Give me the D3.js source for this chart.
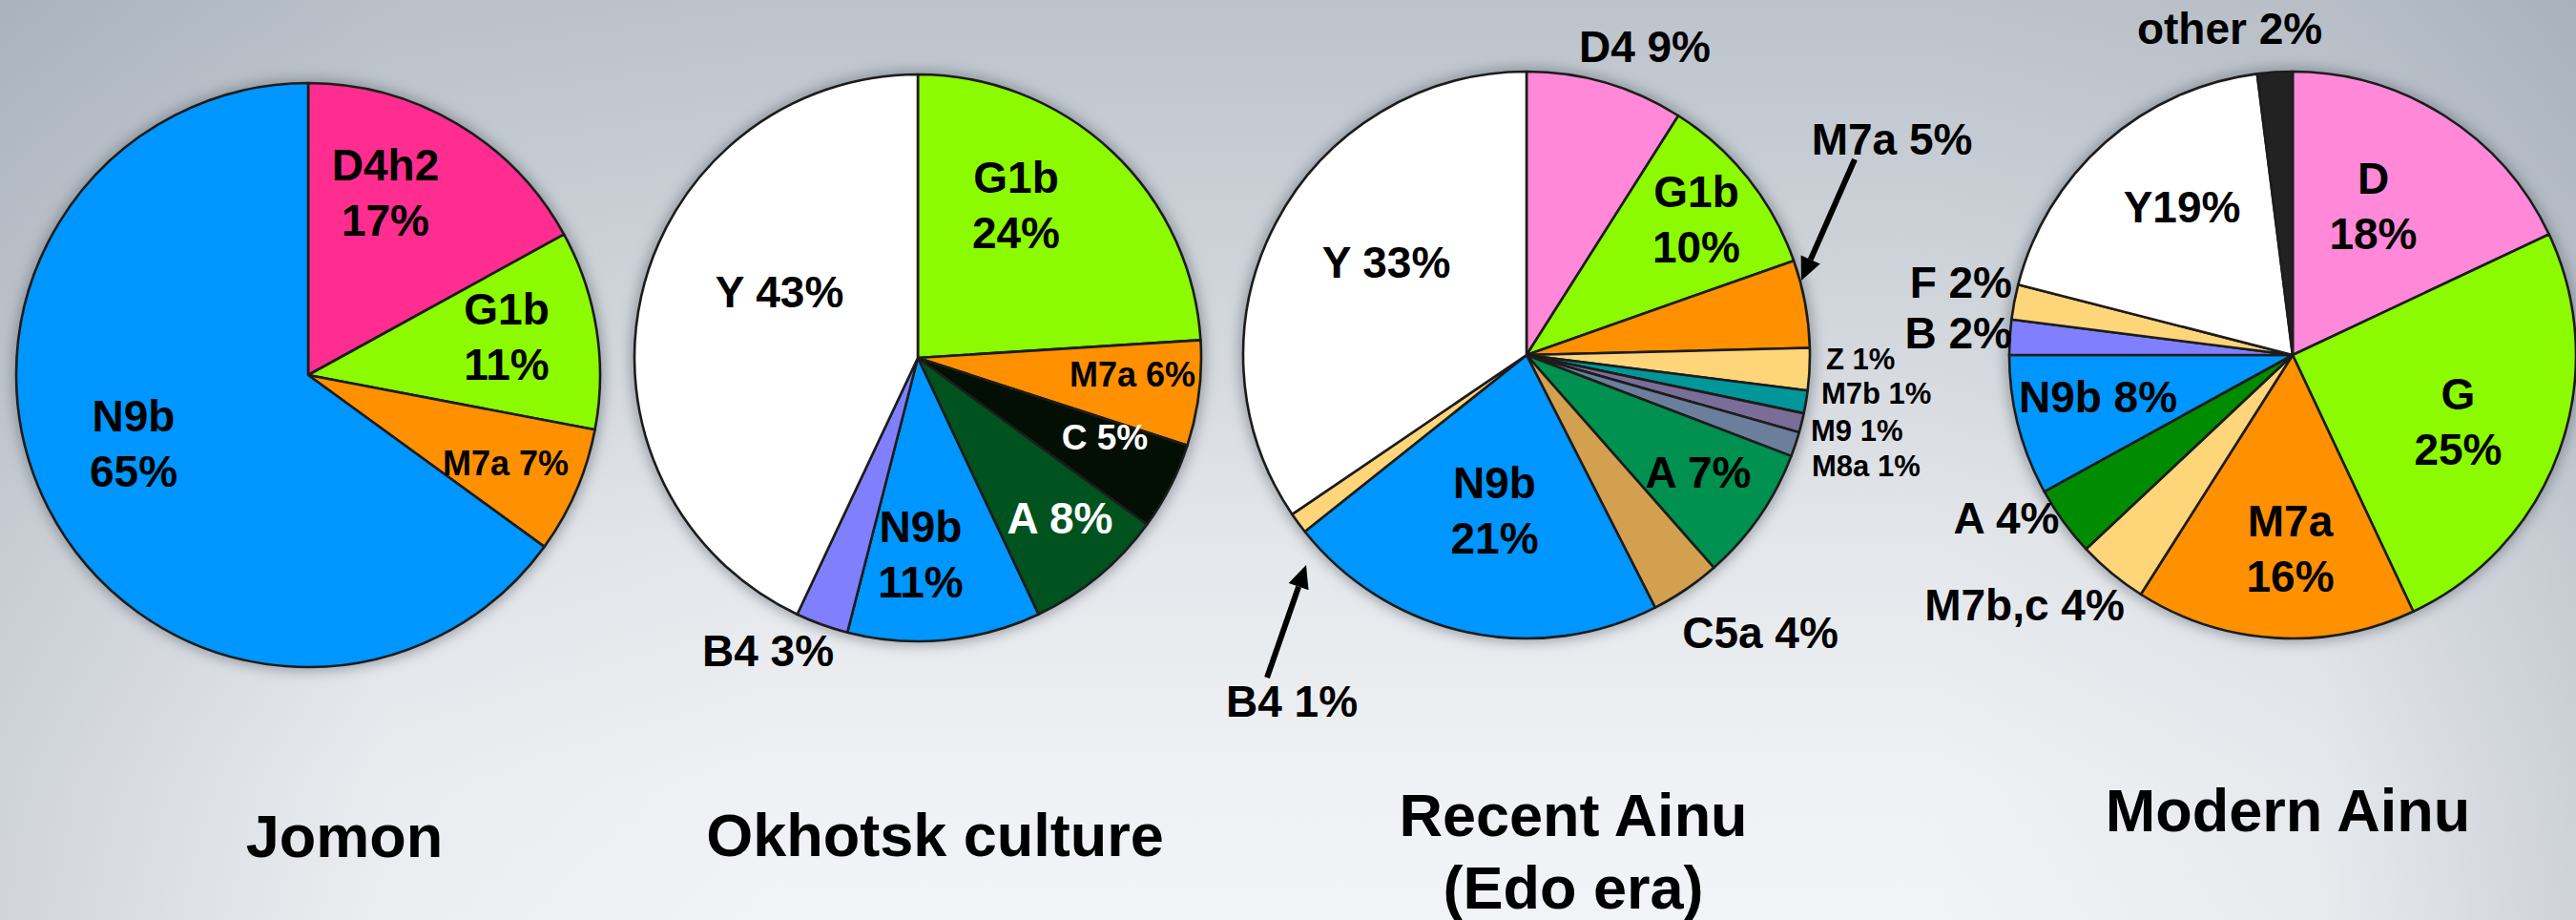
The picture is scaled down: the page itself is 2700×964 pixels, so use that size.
<!DOCTYPE html>
<html><head><meta charset="utf-8">
<script src="https://cdn.jsdelivr.net/npm/d3@7"></script>
<style>html,body{margin:0;padding:0;overflow:hidden;background:#e6e9ec;} svg{display:block;}</style>
</head><body>
<script>
// ---------------- DATA ----------------
const titles = [["Jomon"], ["Okhotsk culture"], ["Recent Ainu", "(Edo era)"], ["Modern Ainu"]];

const jomonGroups = ["D4h2", "G1b", "M7a", "N9b"];
const jomonValues = [17, 11, 7, 65];
const jomonLabels = [["D4h2", "17%"], ["G1b", "11%"], ["M7a 7%"], ["N9b", "65%"]];

const okhotskGroups = ["G1b", "M7a", "C", "A", "N9b", "B4", "Y"];
const okhotskValues = [24, 6, 5, 8, 11, 3, 43];
const okhotskLabels = [["G1b", "24%"], ["M7a 6%"], ["C 5%"], ["A 8%"], ["N9b", "11%"], ["B4 3%"], ["Y 43%"]];

const recentGroups = ["D4", "G1b", "M7a", "Z", "M7b", "M9", "M8a", "A", "C5a", "N9b", "B4", "Y"];
// slice sizes as drawn in the picture (labels show the rounded figures)
const recentValues = [9, 10.6, 5, 2.4, 1.3, 1.1, 1.4, 7.7, 4, 21.8, 1.2, 34.5];
const recentLabels = [["D4 9%"], ["G1b", "10%"], ["M7a 5%"], ["Z 1%"], ["M7b 1%"], ["M9 1%"], ["M8a 1%"], ["A 7%"], ["C5a 4%"], ["N9b", "21%"], ["B4 1%"], ["Y 33%"]];

const modernGroups = ["D", "G", "M7a", "M7b,c", "A", "N9b", "B", "F", "Y", "other"];
const modernValues = [18, 25, 16, 4, 4, 8, 2, 2, 19, 2];
const modernLabels = [["D", "18%"], ["G", "25%"], ["M7a", "16%"], ["M7b,c 4%"], ["A 4%"], ["N9b 8%"], ["B 2%"], ["F 2%"], ["Y19%"], ["other 2%"]];

// ---------------- STYLE ----------------
const jomonColors = ["#ff2d8f", "#8cfa00", "#ff9000", "#0096ff"];
const okhotskColors = ["#8cfa00", "#ff9000", "#020f02", "#00521f", "#0096ff", "#8080ff", "#ffffff"];
const recentColors = ["#ff88d8", "#8cfa00", "#ff9000", "#ffd57a", "#00969a", "#7a6e98", "#6b7f9c", "#00904f", "#d3a04f", "#0096ff", "#ffd57a", "#ffffff"];
const modernColors = ["#ff88d8", "#8cfa00", "#ff9000", "#ffd57a", "#008c00", "#0096ff", "#8080ff", "#ffd57a", "#ffffff", "#222222"];

// ---------------- LAYOUT ----------------
// label layout: [dx, dy(first baseline), font size, anchor, colour] relative to pie centre
const jomonLayout = [[81,-204,46,"middle","#000"],[208,-53,46,"middle","#000"],[207,105,36,"middle","#000"],[-183,59,46,"middle","#000"]];
const okhotskLayout = [[103,-173,46,"middle","#000"],[225,30,36,"middle","#000"],[196,96,37,"middle","#fff"],[149,184,46,"middle","#fff"],[3,193,46,"middle","#000"],[-157,323,46,"middle","#000"],[-145,-53,46,"middle","#000"]];
const recentLayout = [[124,-307,46,"middle","#000"],[178,-155,46,"middle","#000"],[383,-210,46,"middle","#000"],[314,15,31,"start","#000"],[309,51,31,"start","#000"],[298,90,31,"start","#000"],[299,126.5,31,"start","#000"],[180,139,46,"middle","#000"],[245,307,46,"middle","#000"],[-33.5,150,46,"middle","#000"],[-246,379,46,"middle","#000"],[-147,-81,46,"middle","#000"]];
const modernLayout = [[84.5,-169,46,"middle","#000"],[173.5,57,46,"middle","#000"],[-2.5,190,46,"middle","#000"],[-281,278,46,"middle","#000"],[-300,187,46,"middle","#000"],[-204,59.6,46,"middle","#000"],[-294,-7,46,"end","#000"],[-294,-60,46,"end","#000"],[-116,-139,46,"middle","#000"],[-66,-326,46,"middle","#000"]];

const pies = [
  {cx: 323, cy: 393, r: 306, groups: jomonGroups, values: jomonValues, labels: jomonLabels, colors: jomonColors, layout: jomonLayout, arrows: [], title: titles[0], tx: 361, ty: 898},
  {cx: 962, cy: 375, r: 297, groups: okhotskGroups, values: okhotskValues, labels: okhotskLabels, colors: okhotskColors, layout: okhotskLayout, arrows: [], title: titles[1], tx: 980, ty: 897},
  {cx: 1600, cy: 372, r: 297, groups: recentGroups, values: recentValues, labels: recentLabels, colors: recentColors, layout: recentLayout,
    arrows: [[344,-205,288,-78],[-272,338,-231,220]], title: titles[2], tx: 1649, ty: 876},
  {cx: 2403, cy: 372, r: 297, groups: modernGroups, values: modernValues, labels: modernLabels, colors: modernColors, layout: modernLayout, arrows: [], title: titles[3], tx: 2398, ty: 871}
];

const W = 2700, H = 964;
const FONT = "'Liberation Sans', Arial, Helvetica, sans-serif";
const svg = d3.select("body").append("svg").attr("width", W).attr("height", H);
const defs = svg.append("defs");

const gv = defs.append("linearGradient").attr("id", "bgV").attr("x1", 0).attr("y1", 0).attr("x2", 0).attr("y2", 1);
[[0, "#bcc3cb"], [0.3, "#cfd4da"], [0.6, "#e4e7eb"], [0.85, "#eff1f4"], [1, "#f2f3f6"]].forEach(s => gv.append("stop").attr("offset", s[0]).attr("stop-color", s[1]));
const gh = defs.append("linearGradient").attr("id", "bgH").attr("x1", 0).attr("y1", 0).attr("x2", 1).attr("y2", 0);
[[0, 0.28], [0.15, 0.05], [0.3, 0], [0.75, 0], [0.9, 0.08], [1, 0.3]].forEach(s => gh.append("stop").attr("offset", s[0]).attr("stop-color", "#7c8896").attr("stop-opacity", s[1]));

const blur = defs.append("filter").attr("id", "shadow").attr("x", "-20%").attr("y", "-20%").attr("width", "140%").attr("height", "140%");
blur.append("feGaussianBlur").attr("stdDeviation", 7);

svg.append("rect").attr("width", W).attr("height", H).attr("fill", "url(#bgV)");
svg.append("rect").attr("width", W).attr("height", H).attr("fill", "url(#bgH)");

pies.forEach(p => {
  const g = svg.append("g").attr("transform", `translate(${p.cx},${p.cy})`);
  g.append("circle").attr("r", p.r + 4).attr("fill", "#5d6670").attr("opacity", 0.55).attr("filter", "url(#shadow)");
  const rows = p.groups.map((name, i) => ({name, value: p.values[i], color: p.colors[i], label: p.labels[i], lay: p.layout[i]}));
  const arcs = d3.pie().sort(null).value(d => d.value)(rows);
  const arc = d3.arc().innerRadius(0).outerRadius(p.r);
  g.selectAll("path.slice").data(arcs).join("path")
    .attr("class", "slice")
    .attr("d", arc)
    .attr("fill", d => d.data.color)
    .attr("stroke", "#1c1c1c")
    .attr("stroke-width", 2.6)
    .attr("stroke-linejoin", "round");

  const lab = g.selectAll("text.lab").data(rows).join("text")
    .attr("class", "lab")
    .attr("x", d => d.lay[0])
    .attr("y", d => d.lay[1])
    .attr("text-anchor", d => d.lay[3])
    .attr("fill", d => d.lay[4])
    .style("font-family", FONT)
    .style("font-weight", "bold")
    .style("font-size", d => d.lay[2] + "px");
  lab.each(function(d) {
    const t = d3.select(this);
    d.label.forEach((line, i) => {
      t.append("tspan").attr("x", d.lay[0]).attr("dy", i === 0 ? 0 : 58).text(line);
    });
  });

  p.arrows.forEach(a => {
    const [x1, y1, x2, y2] = a;
    const ang = Math.atan2(y2 - y1, x2 - x1);
    const L = 24, Wd = 11;
    const bx = x2 - L * Math.cos(ang), by = y2 - L * Math.sin(ang);
    g.append("line").attr("x1", x1).attr("y1", y1).attr("x2", bx).attr("y2", by)
      .attr("stroke", "#000").attr("stroke-width", 6);
    const px = -Math.sin(ang), py = Math.cos(ang);
    g.append("path").attr("d", `M${x2},${y2}L${bx + px * Wd},${by + py * Wd}L${bx - px * Wd},${by - py * Wd}Z`).attr("fill", "#000");
  });

  const tt = svg.append("text").attr("x", p.tx).attr("y", p.ty).attr("text-anchor", "middle")
    .style("font-family", FONT).style("font-weight", "bold").style("font-size", "63px").attr("fill", "#000");
  p.title.forEach((line, i) => tt.append("tspan").attr("x", p.tx).attr("dy", i === 0 ? 0 : 76).text(line));
});
</script>
</body></html>
